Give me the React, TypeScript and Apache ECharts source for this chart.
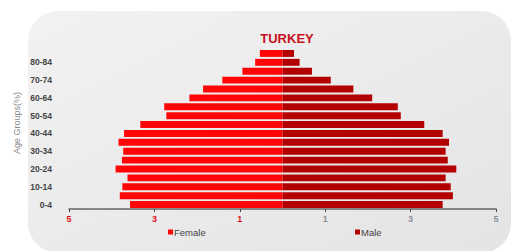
import React, { useEffect, useRef } from "react";
import * as echarts from "echarts";

const ageGroups = [
  "0-4", "5-9", "10-14", "15-19", "20-24", "25-29", "30-34", "35-39", "40-44",
  "45-49", "50-54", "55-59", "60-64", "65-69", "70-74", "75-79", "80-84", "85+",
];
const female = [3.57, 3.81, 3.75, 3.63, 3.91, 3.76, 3.73, 3.84, 3.71, 3.33, 2.72, 2.77, 2.18, 1.86, 1.41, 0.94, 0.64, 0.53];
const male = [3.75, 3.99, 3.94, 3.82, 4.07, 3.87, 3.82, 3.9, 3.75, 3.32, 2.77, 2.7, 2.1, 1.66, 1.13, 0.69, 0.4, 0.27];
const xTicks = { min: -5, max: 5, interval: 2 };

const FEMALE = "#ff0505";
const MALE = "#b30000";
const FONT = "Liberation Sans, Arial, sans-serif";

export default function App() {
  const ref = useRef<HTMLDivElement>(null);
  useEffect(() => {
    if (!ref.current) return;
    const chart = echarts.init(ref.current, undefined, { renderer: "svg" });
    const legendText = { color: "#444", fontSize: 9.5, padding: [0, 0, 0, -4], fontFamily: FONT };
    chart.setOption({
      animation: false,
      textStyle: { fontFamily: FONT },
      graphic: [
        {
          type: "rect",
          z: -10,
          silent: true,
          shape: { x: 28, y: 11, width: 483, height: 242, r: 30 },
          style: {
            fill: new echarts.graphic.LinearGradient(0, 0, 1, 1, [
              { offset: 0, color: "#f2f2f2" },
              { offset: 1, color: "#e4e4e4" },
            ]),
          },
        },
        {
          type: "text",
          x: 17,
          y: 123,
          rotation: Math.PI / 2,
          style: {
            text: "Age Groups(%)",
            fill: "#888",
            fontSize: 9,
            fontFamily: FONT,
            align: "center",
            verticalAlign: "middle",
          },
        },
      ],
      title: {
        text: "TURKEY",
        left: 282,
        textAlign: "center",
        top: 27,
        textStyle: { color: "#c8101c", fontSize: 13, fontWeight: "bold", fontFamily: FONT },
      },
      legend: [
        {
          data: ["Female"],
          left: 168,
          top: 227,
          padding: 0,
          icon: "rect",
          itemWidth: 5,
          itemHeight: 5,
          textStyle: legendText,
        },
        {
          data: ["Male"],
          left: 355,
          top: 227,
          padding: 0,
          icon: "rect",
          itemWidth: 5,
          itemHeight: 5,
          textStyle: legendText,
        },
      ],
      grid: { left: 69, right: 15, top: 49, bottom: 42, containLabel: false },
      xAxis: {
        type: "value",
        min: xTicks.min,
        max: xTicks.max,
        interval: xTicks.interval,
        splitLine: { show: false },
        axisLine: { show: true, lineStyle: { color: "#666", width: 1.5 } },
        axisTick: { show: true, length: 3, lineStyle: { color: "#444" } },
        axisLabel: {
          formatter: (v: number) => String(Math.abs(v)),
          color: (v: any) => (Number(v) < 0 ? "#e0101a" : "#8a8f99"),
          fontSize: 9,
          fontWeight: "bold",
          margin: 5,
        },
      },
      yAxis: {
        type: "category",
        data: ageGroups,
        axisLine: { show: false },
        axisTick: { show: false },
        splitLine: { show: false },
        axisLabel: { interval: 1, color: "#444", fontSize: 8.5, fontWeight: "bold", margin: 17 },
      },
      series: [
        {
          name: "Female",
          type: "bar",
          stack: "pop",
          barWidth: "78%",
          data: female.map((v) => -v),
          itemStyle: { color: FEMALE },
        },
        {
          name: "Male",
          type: "bar",
          stack: "pop",
          barWidth: "78%",
          data: male,
          itemStyle: { color: MALE },
        },
      ],
    });
    return () => chart.dispose();
  }, []);
  return (
    <div
      ref={ref}
      style={{ position: "fixed", left: 0, top: 0, width: 511, height: 251, background: "#fff" }}
    />
  );
}
